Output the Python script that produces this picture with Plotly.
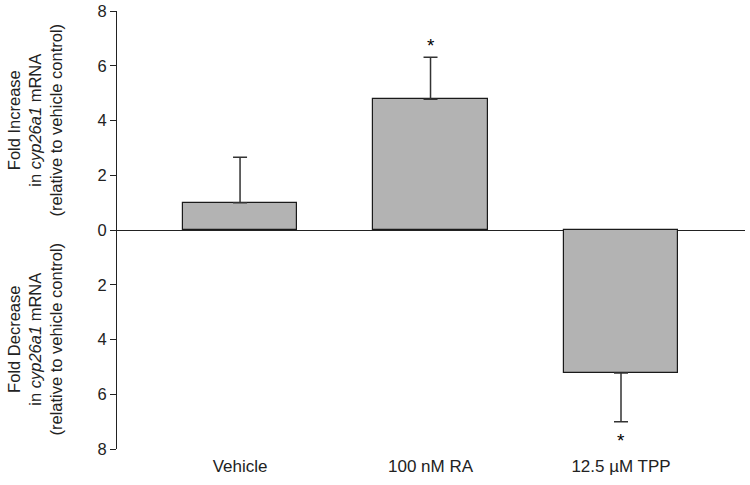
import plotly.graph_objects as go

categories = ["Vehicle", "100 nM RA", "12.5 µM TPP"]
values = [1.0, 4.78, -5.22]
errors = [1.66, 1.53, 1.78]
significant = [False, True, True]
tick_vals = [-8, -6, -4, -2, 0, 2, 4, 6, 8]
tick_text = ["8", "6", "4", "2", "0", "2", "4", "6", "8"]

FONT = "Arial, Liberation Sans, sans-serif"

err_plus = [e if v >= 0 else 0 for v, e in zip(values, errors)]
err_minus = [e if v < 0 else 0 for v, e in zip(values, errors)]

fig = go.Figure()
fig.add_trace(go.Bar(
    x=list(range(len(categories))), y=values, width=0.6,
    marker=dict(color="#b3b3b3", line=dict(color="#1a1a1a", width=1.2)),
    error_y=dict(type="data", symmetric=False, array=err_plus, arrayminus=err_minus,
                 color="#333333", thickness=1.5, width=7),
    showlegend=False, hoverinfo="skip",
))

for i, (v, e, s) in enumerate(zip(values, errors, significant)):
    if s:
        if v >= 0:
            fig.add_annotation(x=i, y=v + e, yshift=-1, text="*", showarrow=False,
                               font=dict(family=FONT, size=19, color="black"),
                               xanchor="center", yanchor="bottom")
        else:
            fig.add_annotation(x=i, y=v - e, yshift=-6, text="*", showarrow=False,
                               font=dict(family=FONT, size=19, color="black"),
                               xanchor="center", yanchor="top")

title_font = dict(family=FONT, size=16.5, color="#222222")
plot_w = 750 - 117 - 5
title_x = (35 - 117) / plot_w
fig.add_annotation(xref="paper", yref="paper", x=title_x, y=0.75,
                   text="Fold Increase<br>in <i>cyp26a1</i> mRNA<br>(relative to vehicle control)",
                   textangle=-90, showarrow=False, font=title_font,
                   xanchor="center", yanchor="middle", align="center")
fig.add_annotation(xref="paper", yref="paper", x=title_x, y=0.25,
                   text="Fold Decrease<br>in <i>cyp26a1</i> mRNA<br>(relative to vehicle control)",
                   textangle=-90, showarrow=False, font=title_font,
                   xanchor="center", yanchor="middle", align="center")

fig.update_layout(
    width=750, height=485,
    margin=dict(l=117, r=5, t=11, b=36, autoexpand=False),
    paper_bgcolor="white", plot_bgcolor="white",
    font=dict(family=FONT, size=15, color="#222222"),
    xaxis=dict(range=[-0.646, 2.651], tickvals=list(range(len(categories))),
               ticktext=categories, showgrid=False, zeroline=False, showline=False,
               ticks="", tickfont=dict(size=17), automargin=False, ticklabelstandoff=5),
    yaxis=dict(range=[-8, 8], tickvals=tick_vals, ticktext=tick_text,
               showgrid=False, zeroline=True, zerolinecolor="#222222", zerolinewidth=1.2,
               showline=True, linecolor="#222222", linewidth=1.2,
               ticks="outside", ticklen=6, tickcolor="#222222", tickwidth=1.2,
               tickfont=dict(size=16.5), automargin=False),
    bargap=0,
)

fig.write_html("out.html", config={"displayModeBar": False},
               post_script="document.body.style.margin='0';")
